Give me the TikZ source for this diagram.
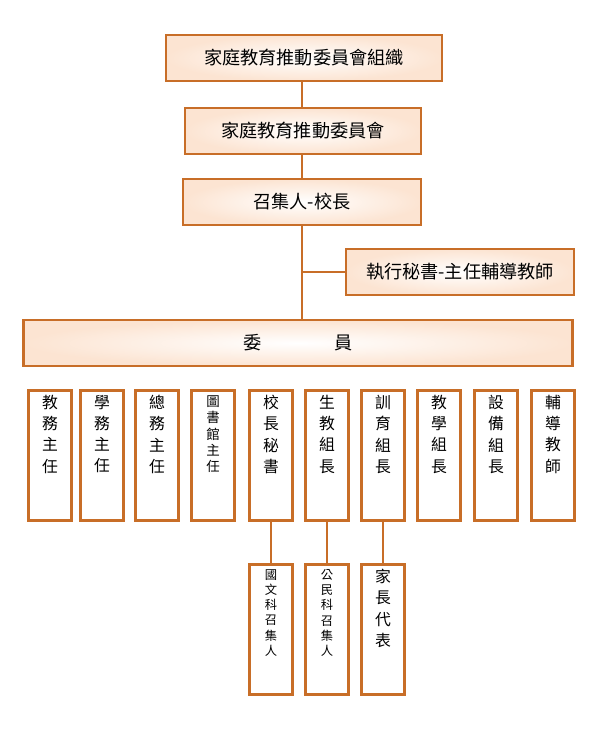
\documentclass[tikz,border=0pt]{standalone}
\usepackage{fontspec}
\newfontfamily\cjk{Noto Sans CJK TC}
\definecolor{boxline}{RGB}{200,110,40}
\definecolor{boxfill}{RGB}{252,228,210}
\tikzset{
  headbox/.style={draw=boxline, line width=2.4pt, inner color=white, outer color=boxfill, font=\cjk\fontsize{15.5}{17}\selectfont},
  colbox/.style={draw=boxline, line width=2.4pt, fill=white, minimum width=43*0.03cm, minimum height=130*0.03cm, anchor=north},
  coltext/.style={anchor=north, align=center, font=\cjk\fontsize{13.5}{18}\selectfont},
  link/.style={draw=boxline, line width=1.6pt}
}
\begin{document}
\begin{tikzpicture}[x=0.03cm,y=-0.03cm]
\useasboundingbox (0,0) rectangle (600,730);

% top of the chart
\node[headbox, minimum width=276*0.03cm, minimum height=46*0.03cm] (org) at (304,58) {家庭教育推動委員會組織};
\node[headbox, minimum width=236*0.03cm, minimum height=46*0.03cm] (comm) at (303,131) {家庭教育推動委員會};
\node[headbox, minimum width=238*0.03cm, minimum height=46*0.03cm] (head) at (302,202) {召集人-校長};
\node[headbox, minimum width=228*0.03cm, minimum height=46*0.03cm] (secr) at (460,272) {執行秘書-主任輔導教師};
\node[headbox, minimum width=549*0.03cm, minimum height=46*0.03cm] (memb) at (298,343) {委\hspace{4em}員};
\coordinate (mid) at (head.south |- secr.west);

\draw[link] (org.south -| head.south) -- (comm.north -| head.south);
\draw[link] (comm.south -| head.south) -- (head.north);
\draw[link] (head.south) -- (head.south |- memb.north);
\draw[link] (mid) -- (secr.west);

% members
\foreach \n/\x/\t in {c1/50/教\\務\\主\\任, c2/102/學\\務\\主\\任, c3/157/總\\務\\主\\任,
  c5/271/校\\長\\秘\\書, c6/327/生\\教\\組\\長, c7/383/訓\\育\\組\\長,
  c8/439/教\\學\\組\\長, c9/496/設\\備\\組\\長, c10/553/輔\\導\\教\\師} {
  \node[colbox] (\n) at (\x,389) {};
  \node[coltext] at ([yshift=-2pt]\n.north) {\t};
}
\node[colbox] (c4) at (213,389) {};
\node[coltext, font=\cjk\fontsize{11.5}{14}\selectfont] at ([yshift=-2pt]c4.north) {圖\\書\\館\\主\\任};

% lower row
\node[colbox] (d1) at (271,563) {};
\node[coltext, font=\cjk\fontsize{10.5}{13}\selectfont] at ([yshift=-2pt]d1.north) {國\\文\\科\\召\\集\\人};
\node[colbox] (d2) at (327,563) {};
\node[coltext, font=\cjk\fontsize{10.5}{13}\selectfont] at ([yshift=-2pt]d2.north) {公\\民\\科\\召\\集\\人};
\node[colbox] (d3) at (383,563) {};
\node[coltext] at ([yshift=-2pt]d3.north) {家\\長\\代\\表};

\draw[link] (c5) -- (d1);
\draw[link] (c6) -- (d2);
\draw[link] (c7) -- (d3);
\end{tikzpicture}
\end{document}
